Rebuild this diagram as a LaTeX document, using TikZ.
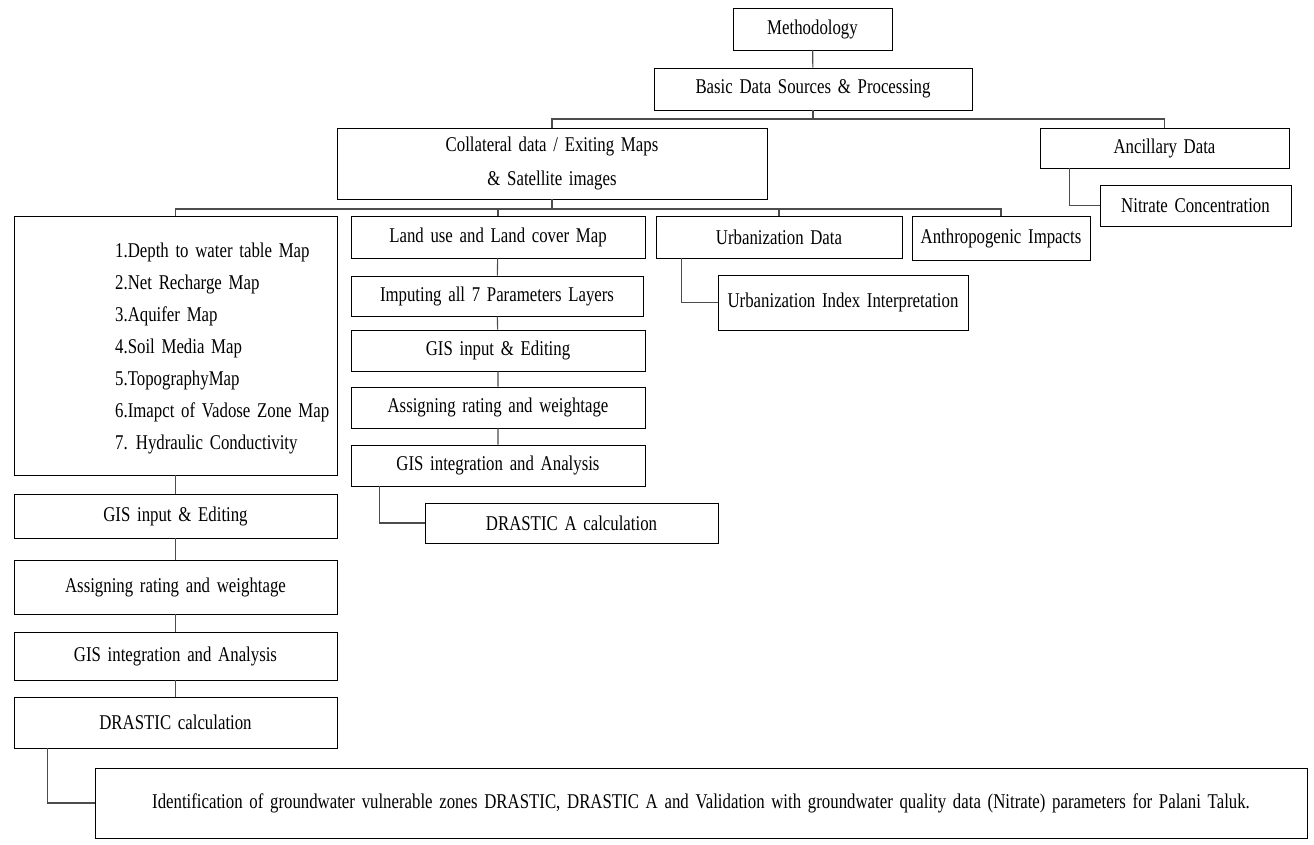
\documentclass[tikz,border=0pt]{standalone}
\usepackage{fontspec}
\setmainfont{Liberation Serif}[FakeStretch=0.8, WordSpace=1.6]
\usetikzlibrary{positioning}

\begin{document}
\begin{tikzpicture}[x=1pt, y=-1pt,
    box/.style={draw, line width=0.9pt, inner sep=0pt, font=\fontsize{21}{24}\selectfont},
    link/.style={line width=1.1pt, draw=black!70}]
  \useasboundingbox (0,0) rectangle (1314,845);
  % top levels
  \node[box, minimum width=159pt, minimum height=42pt] (meth) at (812.5,29) {Methodology};
  \node[box, minimum width=318pt, minimum height=42pt] (basic) at (813,89) {Basic Data Sources \& Processing};
  \node[box, minimum width=430pt, minimum height=71pt, align=center, font=\fontsize{21}{34}\selectfont] (coll) at (552,163.5) {Collateral data / Exiting Maps\\ \& Satellite images};
  \node[box, minimum width=249pt, minimum height=40pt] (anc) at (1164.5,148) {Ancillary Data};
  \node[box, minimum width=191pt, minimum height=41pt] (nit) at (1195.5,205.5) {Nitrate Concentration};
  % second level
  \node[box, minimum width=323pt, minimum height=259pt] (params) at (175.5,345.5) {};
  \node[anchor=north west, align=left, inner sep=0pt, font=\fontsize{21}{32}\selectfont] (plist) at (115,243)
    {1.Depth to water table Map\\ 2.Net Recharge Map\\ 3.Aquifer Map\\ 4.Soil Media Map\\
     5.TopographyMap\\ 6.Imapct of Vadose Zone Map\\ 7. Hydraulic Conductivity};
  \node[box, minimum width=294pt, minimum height=42pt] (land) at (498,237) {Land use and Land cover Map};
  \node[box, minimum width=246pt, minimum height=42pt] (urb) at (779,237) {Urbanization Data};
  \node[box, minimum width=178pt, minimum height=44pt] (anthro) at (1001,238) {Anthropogenic Impacts};
  \node[box, minimum width=250pt, minimum height=55pt] (urbidx) at (843,302.5) {Urbanization Index Interpretation};
  % middle column
  \node[box, minimum width=292pt, minimum height=40pt] (imput) at (497,296) {Imputing all 7 Parameters Layers};
  \node[box, minimum width=294pt, minimum height=41pt] (gismid) at (498,350.5) {GIS input \& Editing};
  \node[box, minimum width=294pt, minimum height=41pt] (ratemid) at (498,407.5) {Assigning rating and weightage};
  \node[box, minimum width=294pt, minimum height=41pt] (intmid) at (498,465.5) {GIS integration and Analysis};
  \node[box, minimum width=293pt, minimum height=40pt] (drasa) at (571.5,523) {DRASTIC A calculation};
  % left column
  \node[box, minimum width=323pt, minimum height=44pt] (gisleft) at (175.5,516) {GIS input \& Editing};
  \node[box, minimum width=323pt, minimum height=54pt] (rateleft) at (175.5,587) {Assigning rating and weightage};
  \node[box, minimum width=323pt, minimum height=48pt] (intleft) at (175.5,656) {GIS integration and Analysis};
  \node[box, minimum width=323pt, minimum height=51pt] (dras) at (175.5,722.5) {DRASTIC calculation};
  \node[box, minimum width=1212pt, minimum height=70pt] (ident) at (701,803)
    {Identification of groundwater vulnerable zones DRASTIC, DRASTIC A and Validation with groundwater quality data (Nitrate) parameters for Palani Taluk.};
  % connectors
  \coordinate (j1) at (813,119);
  \coordinate (j2) at (552,209);
  \draw[link] (meth) -- (basic);
  \draw[link] (basic) -- (j1);
  \draw[link] (coll.north) |- (j1) -| (anc.north);
  \draw[link] (coll) -- (j2);
  \foreach \n in {params,land,urb,anthro}
    \draw[link] (\n.north) |- (j2);
  \draw[link] ([xshift=30pt]anc.south west) |- (nit.west);
  \draw[link] ([xshift=26pt]urb.south west) |- (urbidx.west);
  \draw[link] ([xshift=29pt]intmid.south west) |- (drasa.west);
  \draw[link] ([xshift=34pt]dras.south west) |- (ident.west);
  \draw[link] (params) -- (gisleft) -- (rateleft) -- (intleft) -- (dras);
  \draw[link] (land) -- (imput) -- (gismid) -- (ratemid) -- (intmid);
\end{tikzpicture}
\end{document}
